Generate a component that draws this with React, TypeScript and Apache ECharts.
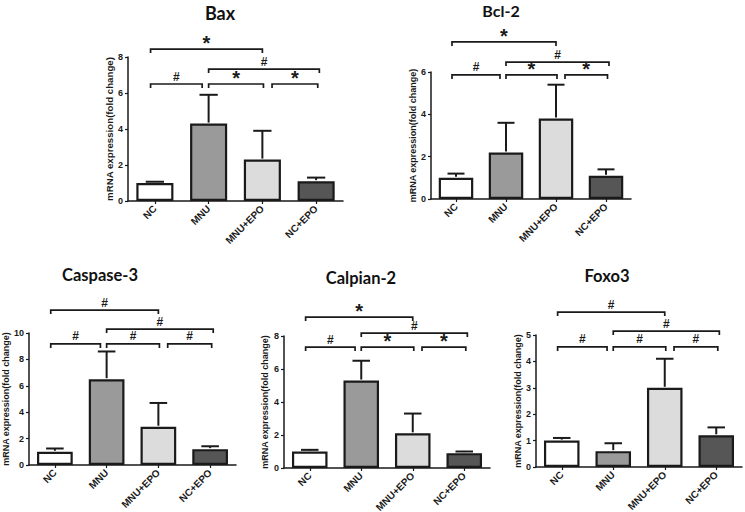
import React, { useEffect, useRef } from "react";
import * as echarts from "echarts";

// ---- data ----
const groups = ["NC", "MNU", "MNU+EPO", "NC+EPO"];

const baxMean = [1.0, 4.3, 2.3, 1.1];
const baxErr = [0.07, 1.6, 1.6, 0.2];
const bcl2Mean = [1.0, 2.2, 3.8, 1.1];
const bcl2Err = [0.2, 1.4, 1.6, 0.3];
const casp3Mean = [1.0, 6.5, 2.9, 1.2];
const casp3Err = [0.25, 2.1, 1.8, 0.22];
const calp2Mean = [1.0, 5.3, 2.1, 0.9];
const calp2Err = [0.1, 1.2, 1.2, 0.1];
const foxo3Mean = [1.0, 0.6, 3.0, 1.2];
const foxo3Err = [0.1, 0.3, 1.1, 0.3];

// comparisons (group index pairs) and their marks / bracket heights (data units)
const comparisons = [
  [0, 2],
  [1, 3],
  [0, 1],
  [1, 2],
  [2, 3],
];
const baxMarks = ["*", "#", "#", "*", "*"];
const baxLevels = [8.44, 7.33, 6.5, 6.5, 6.5];
const bcl2Marks = ["*", "#", "#", "*", "*"];
const bcl2Levels = [7.42, 6.47, 5.86, 5.86, 5.86];
const casp3Marks = ["#", "#", "#", "#", "#"];
const casp3Levels = [11.74, 10.3, 9.17, 9.17, 9.17];
const calp2Marks = ["*", "#", "#", "*", "*"];
const calp2Levels = [9.15, 8.18, 7.33, 7.33, 7.33];
const foxo3Marks = ["#", "#", "#", "#", "#"];
const foxo3Levels = [5.87, 5.15, 4.55, 4.55, 4.55];

const yMax = [8, 6, 10, 8, 5];
const yInterval = [2, 2, 2, 2, 1];
const titles = ["Bax", "Bcl-2", "Caspase-3", "Calpian-2", "Foxo3"];
const yName = "mRNA expression(fold change)";

// ---- layout / style ----
const barColors = ["#ffffff", "#9a9a9a", "#dcdcdc", "#565656"];
const bracketOffsets = [
  [-0.08, 0],
  [0, 0.06],
  [-0.08, -0.12],
  [0, 0.02],
  [0.18, 0.03],
];
const layouts = [
  { left: 128, top: 57, width: 215, height: 144, nameGap: 14, nfs: 9.7, tx: 220, ty: 13, tfs: 18 },
  { left: 431, top: 72, width: 200, height: 127, nameGap: 11, nfs: 9, tx: 501, ty: 10, tfs: 16 },
  { left: 29, top: 333, width: 207, height: 132, nameGap: 15, nfs: 9, tx: 100, ty: 275, tfs: 16.5 },
  { left: 284, top: 336, width: 206, height: 132, nameGap: 15, nfs: 9, tx: 361, ty: 278, tfs: 16.5 },
  { left: 536, top: 335, width: 206, height: 132, nameGap: 11, nfs: 9, tx: 607, ty: 276, tfs: 16.5 },
];

const panels = [
  { mean: baxMean, err: baxErr, marks: baxMarks, levels: baxLevels },
  { mean: bcl2Mean, err: bcl2Err, marks: bcl2Marks, levels: bcl2Levels },
  { mean: casp3Mean, err: casp3Err, marks: casp3Marks, levels: casp3Levels },
  { mean: calp2Mean, err: calp2Err, marks: calp2Marks, levels: calp2Levels },
  { mean: foxo3Mean, err: foxo3Err, marks: foxo3Marks, levels: foxo3Levels },
];

const INK = "#1a1a1a";
const FONT = "Liberation Sans, Arial, sans-serif";

export default function App() {
  const ref = useRef<HTMLDivElement>(null);

  useEffect(() => {
    if (!ref.current) return;
    const chart = echarts.init(ref.current, null, { renderer: "svg" });

    const series: any[] = [];
    panels.forEach((p, i) => {
      series.push({
        type: "bar",
        xAxisIndex: i,
        yAxisIndex: i,
        barWidth: "69%",
        data: p.mean.map((v, k) => ({
          value: v,
          itemStyle: { color: barColors[k], borderColor: INK, borderWidth: 2.2 },
        })),
        z: 2,
      });
      series.push({
        type: "custom",
        xAxisIndex: i,
        yAxisIndex: i,
        clip: false,
        z: 3,
        encode: { x: 0, y: [1, 2] },
        data: p.mean.map((m, k) => [k, m, m + p.err[k]]),
        renderItem: (params: any, api: any) => {
          const x = api.value(0);
          const m = api.value(1);
          const t = api.value(2);
          const pb = api.coord([x, m]);
          const pt = api.coord([x, t]);
          const bw = api.size([1, 0])[0];
          const hc = bw * 0.17;
          return {
            type: "group",
            children: [
              { type: "line", shape: { x1: pb[0], y1: pb[1] - 1, x2: pt[0], y2: pt[1] }, style: { stroke: INK, lineWidth: 2 } },
              { type: "line", shape: { x1: pt[0] - hc, y1: pt[1], x2: pt[0] + hc, y2: pt[1] }, style: { stroke: INK, lineWidth: 2 } },
            ],
          };
        },
      });
      series.push({
        type: "custom",
        xAxisIndex: i,
        yAxisIndex: i,
        clip: false,
        silent: true,
        z: 4,
        encode: { x: [0, 2], y: 1 },
        data: comparisons.map((c, k) => [c[0], p.levels[k], c[1]]),
        renderItem: (params: any, api: any) => {
          const k = params.dataIndex;
          const off = bracketOffsets[k];
          const bw = api.size([1, 0])[0];
          const pa = api.coord([api.value(0), api.value(1)]);
          const pb = api.coord([api.value(2), api.value(1)]);
          const x1 = pa[0] + off[0] * bw;
          const x2 = pb[0] + off[1] * bw;
          const y = pa[1];
          const mark = p.marks[k];
          const star = mark === "*";
          return {
            type: "group",
            children: [
              {
                type: "polyline",
                shape: { points: [[x1, y + 4], [x1, y], [x2, y], [x2, y + 4]] },
                style: { stroke: INK, lineWidth: 1.7, fill: "none" },
              },
              {
                type: "text",
                x: (x1 + x2) / 2,
                y: star ? y + 4 : y - 1.5,
                style: {
                  text: mark,
                  fontSize: star ? 20 : 12,
                  fontWeight: "bold",
                  fontFamily: FONT,
                  fill: INK,
                  align: "center",
                  verticalAlign: "bottom",
                },
              },
            ],
          };
        },
      });
    });

    chart.setOption({
      animation: false,
      backgroundColor: "#ffffff",
      grid: layouts.map((l) => ({
        left: l.left,
        top: l.top,
        width: l.width,
        height: l.height,
        containLabel: false,
        outerBoundsMode: "none",
      })),
      xAxis: layouts.map((l, i) => ({
        type: "category",
        gridIndex: i,
        data: groups,
        axisLine: { show: true, lineStyle: { color: INK, width: 1.5 } },
        axisTick: { show: true, alignWithLabel: true, length: 3, lineStyle: { color: INK, width: 1.2 } },
        axisLabel: {
          rotate: 45,
          interval: 0,
          fontSize: 10,
          fontWeight: "bold",
          fontFamily: FONT,
          color: INK,
          margin: 6,
        },
        splitLine: { show: false },
      })),
      yAxis: layouts.map((l, i) => ({
        type: "value",
        gridIndex: i,
        min: 0,
        max: yMax[i],
        interval: yInterval[i],
        name: yName,
        nameLocation: "middle",
        nameGap: l.nameGap,
        nameTextStyle: { fontSize: l.nfs, fontWeight: "bold", fontFamily: FONT, color: INK },
        axisLine: { show: true, lineStyle: { color: INK, width: 1.5 } },
        axisTick: { show: true, length: 3, lineStyle: { color: INK, width: 1.2 } },
        axisLabel: { fontSize: 9, fontWeight: "bold", fontFamily: FONT, color: INK, margin: 5 },
        splitLine: { show: false },
      })),
      graphic: layouts.map((l, i) => ({
        type: "text",
        x: l.tx,
        y: l.ty,
        style: {
          text: titles[i],
          fontSize: l.tfs,
          fontWeight: "bold",
          fontFamily: "Lato, Open Sans, sans-serif",
          fill: "#111",
          align: "center",
          verticalAlign: "middle",
        },
      })),
      series,
    });

    return () => chart.dispose();
  }, []);

  return (
    <div
      ref={ref}
      style={{ position: "fixed", left: 0, top: 0, width: 745, height: 512, background: "#fff" }}
    />
  );
}
